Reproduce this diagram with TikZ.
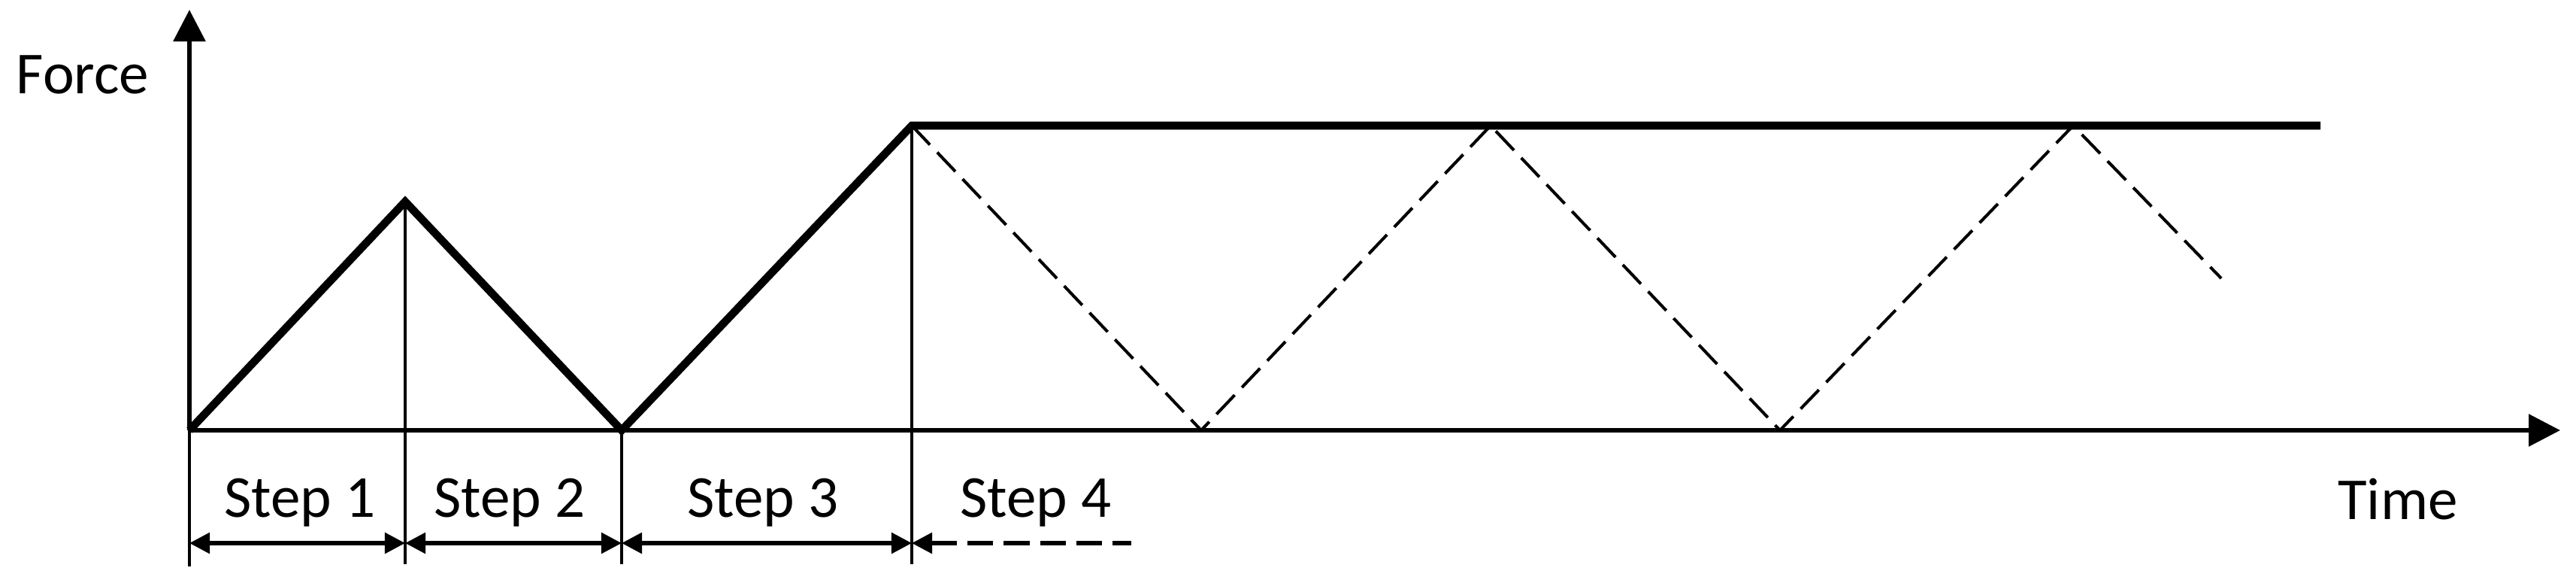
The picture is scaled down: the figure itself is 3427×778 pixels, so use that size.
\documentclass[tikz,border=0pt]{standalone}
\usepackage{fontspec}
\setmainfont{Carlito}
\usetikzlibrary{arrows.meta}
\begin{document}
\begin{tikzpicture}[x=0.01cm,y=-0.01cm,
  axisline/.style={line width=1.7pt,-{Triangle[length=0.42cm,width=0.42cm]}},
  loadcurve/.style={line width=3pt,line join=miter},
  guide/.style={line width=1.35pt},
  dimboth/.style={line width=1.55pt,{Triangle[length=0.27cm,width=0.27cm]}-{Triangle[length=0.27cm,width=0.27cm]}},
  dimopen/.style={line width=1.55pt,{Triangle[length=0.27cm,width=0.27cm]}-,dash pattern=on 0.345cm off 0.1375cm},
  loadcycle/.style={line width=1.15pt,dash pattern=on 0.35cm off 0.14cm},
  lbl/.style={font=\fontsize{22.5}{27}\selectfont,anchor=base,inner sep=0pt}]
\path[use as bounding box] (0,0) rectangle (3427,778);
% key points
\coordinate (O) at (252,572);
\coordinate (Ytip) at (252,13);
\coordinate (Xtip) at (3406,572);
\coordinate (P1) at (539,268);
\coordinate (V1) at (827,572);
\coordinate (P2) at (1213,167);
\coordinate (Pend) at (3087,167);
\coordinate (D1) at (1598,572);
\coordinate (D2) at (1983,167);
\coordinate (D3) at (2368,572);
\coordinate (D4) at (2758,167);
\coordinate (D5) at (2955,370);
\coordinate (B0) at (252,753);
\coordinate (B1) at (539,750);
\coordinate (B2) at (827,750);
\coordinate (B3) at (1213,750);
\coordinate (A0) at (252,722);
\coordinate (A1) at (539,722);
\coordinate (A2) at (827,722);
\coordinate (A3) at (1213,722);
\coordinate (A4) at (1505,722);
% axes
\draw[axisline] (O) -- (Ytip);
\draw[axisline] (O) -- (Xtip);
% guides
\draw[guide] (O) -- (B0);
\draw[guide] (P1) -- (B1);
\draw[guide] (V1) -- (B2);
\draw[guide] (P2) -- (B3);
% dashed cyclic load
\draw[loadcycle] (P2) -- (D1) -- (D2) -- (D3) -- (D4) -- (D5);
% solid load curve
\draw[loadcurve] (O) -- (P1) -- (V1) -- (P2) -- (Pend);
% dimension arrows
\draw[dimboth] (A0) -- (A1);
\draw[dimboth] (A1) -- (A2);
\draw[dimboth] (A2) -- (A3);
\draw[dimopen] (A3) -- (A4);
% labels
\node[lbl] (force) at (110,124) {Force};
\node[lbl] (s1) at (399,687) {Step 1};
\node[lbl] (s2) at (678,687) {Step 2};
\node[lbl] (s3) at (1015,687) {Step 3};
\node[lbl] (s4) at (1378,687) {Step 4};
\node[lbl] (time) at (3190,690) {Time};
\end{tikzpicture}
\end{document}
